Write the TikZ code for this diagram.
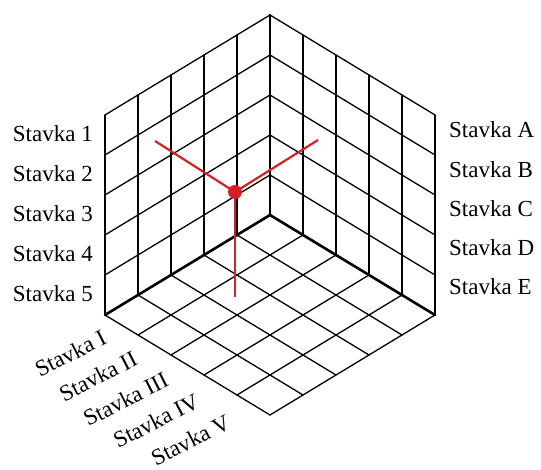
\documentclass[tikz,border=0pt]{standalone}
\usepackage{fontspec}
\setmainfont{Liberation Serif}
\definecolor{myred}{RGB}{214,32,38}
\begin{document}
\begin{tikzpicture}[x=1pt,y=-1pt,
  gridline/.style={line width=1.3pt,black,line cap=round},
  edgeline/.style={line width=2.6pt,black,line cap=round},
  redline/.style={line width=2.2pt,myred},
  lbl/.style={font=\fontsize{23}{27}\selectfont,inner sep=0pt}]
\useasboundingbox (0,0) rectangle (541,470);
\coordinate (O) at (270,215);
% left wall
\foreach \i in {0,...,5}{
  \draw[gridline] (270-33*\i,215+20*\i) -- (270-33*\i,15+20*\i);
  \draw[gridline] (270,215-40*\i) -- (105,315-40*\i);
}
% right wall
\foreach \i in {0,...,5}{
  \draw[gridline] (270+33*\i,215+20*\i) -- (270+33*\i,15+20*\i);
  \draw[gridline] (270,215-40*\i) -- (435,315-40*\i);
}
% floor
\foreach \i in {0,...,5}{
  \draw[gridline] (270-33*\i,215+20*\i) -- (435-33*\i,315+20*\i);
  \draw[gridline] (270+33*\i,215+20*\i) -- (105+33*\i,315+20*\i);
}
% thick edges
\coordinate (L) at (105,315);
\coordinate (R) at (435,315);
\coordinate (T) at (270,15);
\draw[edgeline] (O) -- (L);
\draw[edgeline] (O) -- (R);
\draw[edgeline] (O) -- (T);
% red point
\node[circle,fill=myred,minimum size=14pt,inner sep=0pt] (P) at (235,192) {};
\coordinate (PL) at (155,141);
\coordinate (PR) at (318,140);
\coordinate (PD) at (235,297);
\draw[redline] (P.center) -- (PL);
\draw[redline] (P.center) -- (PR);
\draw[redline] (P.center) -- (PD);
% left labels
\foreach \t [count=\k from 0] in {1,2,3,4,5}{
  \node[lbl,anchor=base east] (l\t) at (93,142+40*\k) {Stavka \t};
}
% right labels
\foreach \t [count=\k from 0] in {A,B,C,D,E}{
  \node[lbl,anchor=base west] (r\t) at (449,138+39.2*\k) {Stavka \t};
}
% floor labels
\foreach \t [count=\k from 0] in {I,II,III,IV,V}{
  \node[lbl,anchor=base east,rotate=27] (f\k) at (108+31*\k,343+21.2*\k) {Stavka \t};
}
\end{tikzpicture}
\end{document}
